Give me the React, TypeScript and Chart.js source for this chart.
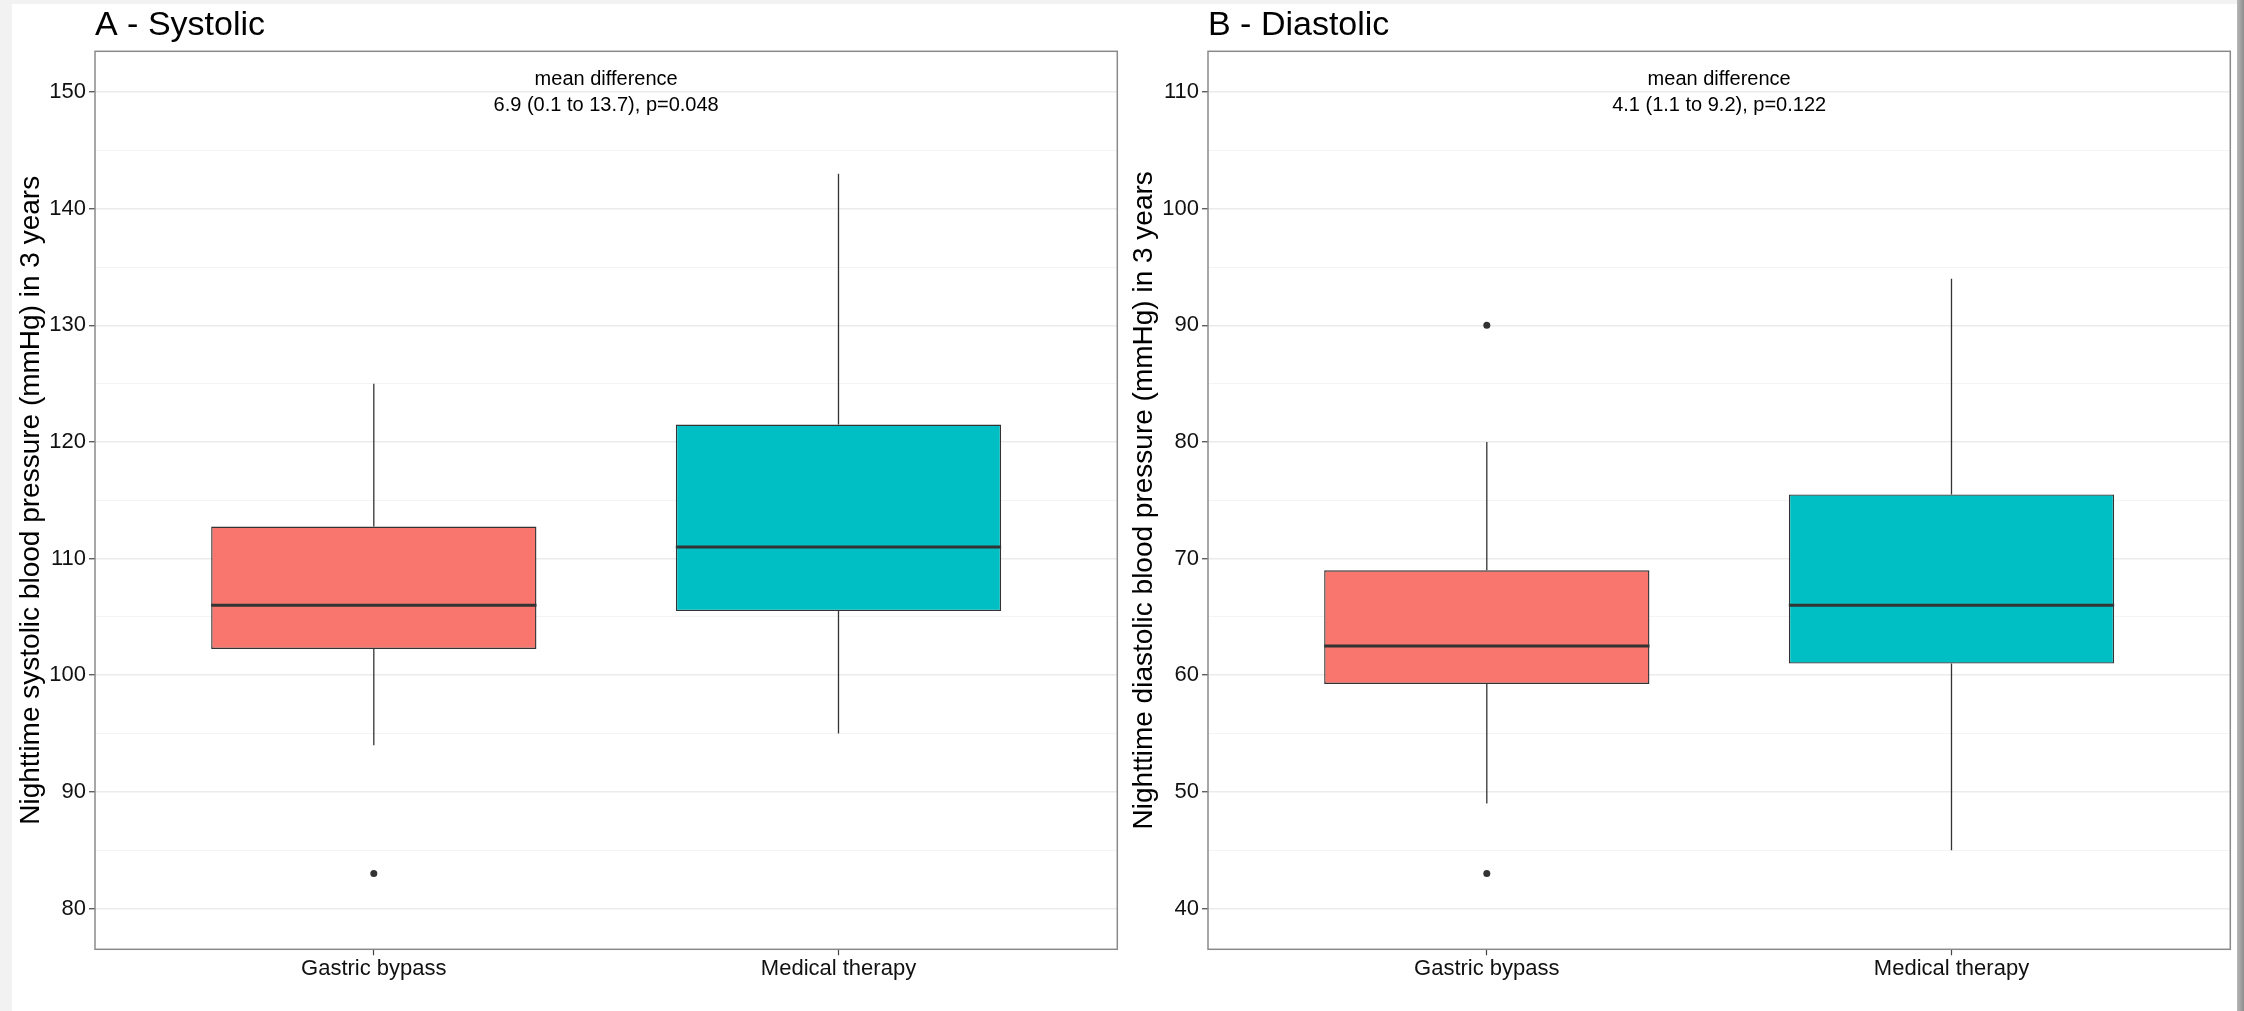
import React, { useEffect, useRef } from 'react';
import { Chart, registerables } from 'chart.js';

Chart.register(...registerables);

// ---------- data ----------
const CATEGORIES = ['Gastric bypass', 'Medical therapy'];
const FILL_COLORS = ['#F8766D', '#00BFC4'];

// Panel A – systolic
const SYS_TITLE = 'A - Systolic';
const SYS_Y_LABEL = 'Nighttime systolic blood pressure (mmHg) in 3 years';
const SYS_LOWER = [94, 95];
const SYS_Q1 = [102.25, 105.5];
const SYS_MEDIAN = [106, 111];
const SYS_Q3 = [112.75, 121.5];
const SYS_UPPER = [125, 143];
const SYS_OUTLIERS = [[83], []];
const SYS_MAJOR_TICKS = [80, 90, 100, 110, 120, 130, 140, 150];
const SYS_MINOR_TICKS = [85, 95, 105, 115, 125, 135, 145];
const SYS_LIMITS = [76.5, 153.5];
const SYS_ANNOTATION = ['mean difference', '6.9 (0.1 to 13.7), p=0.048'];

// Panel B – diastolic
const DIA_TITLE = 'B - Diastolic';
const DIA_Y_LABEL = 'Nighttime diastolic blood pressure (mmHg) in 3 years';
const DIA_LOWER = [49, 45];
const DIA_Q1 = [59.25, 61];
const DIA_MEDIAN = [62.5, 66];
const DIA_Q3 = [69, 75.5];
const DIA_UPPER = [80, 94];
const DIA_OUTLIERS = [[43, 90], []];
const DIA_MAJOR_TICKS = [40, 50, 60, 70, 80, 90, 100, 110];
const DIA_MINOR_TICKS = [45, 55, 65, 75, 85, 95, 105];
const DIA_LIMITS = [36.5, 113.5];
const DIA_ANNOTATION = ['mean difference', '4.1 (1.1 to 9.2), p=0.122'];

// ---------- styling ----------
const FONT = 'Liberation Sans, Arial, Helvetica, sans-serif';
const BOX_WIDTH = 0.7; // fraction of category spacing
const X_LIMITS = [0.4, 2.6];
const CANVAS_W = 1131;
const CANVAS_H = 1011;
const LINE_COLOR = '#333333';

type PanelProps = {
  title: string;
  yLabel: string;
  lower: number[];
  q1: number[];
  median: number[];
  q3: number[];
  upper: number[];
  outliers: number[][];
  majorTicks: number[];
  minorTicks: number[];
  limits: number[];
  annotation: string[];
};

const framePlugin = {
  id: 'panelFrame',
  afterDraw(chart: any) {
    const { ctx, chartArea } = chart;
    ctx.save();
    ctx.strokeStyle = '#8a8a8a';
    ctx.lineWidth = 1.5;
    ctx.strokeRect(chartArea.left, chartArea.top, chartArea.right - chartArea.left, chartArea.bottom - chartArea.top);
    ctx.restore();
  },
};

const annotationPlugin = {
  id: 'meanDiff',
  afterDatasetsDraw(chart: any, _args: any, opts: any) {
    const { ctx, chartArea, scales } = chart;
    const lines: string[] = opts.lines || [];
    const x = scales.x.getPixelForValue((1 + CATEGORIES.length) / 2);
    ctx.save();
    ctx.font = `20px ${FONT}`;
    ctx.fillStyle = '#000';
    ctx.textAlign = 'center';
    ctx.textBaseline = 'middle';
    lines.forEach((t, i) => ctx.fillText(t, x, chartArea.top + 28.5 + i * 26));
    ctx.restore();
  },
};

function Panel(p: PanelProps & { left: number }) {
  const ref = useRef<HTMLCanvasElement | null>(null);
  useEffect(() => {
    if (!ref.current) return;
    const positions = CATEGORIES.map((_, i) => i + 1);
    const half = BOX_WIDTH / 2;
    const datasets: any[] = [];
    // medians
    positions.forEach((x, i) => {
      datasets.push({
        type: 'line',
        data: [
          { x: x - half, y: p.median[i] },
          { x: x + half, y: p.median[i] },
        ],
        borderColor: LINE_COLOR,
        borderWidth: 3,
        pointRadius: 0,
        fill: false,
      });
    });
    // boxes
    datasets.push({
      type: 'bar',
      data: positions.map((x, i) => ({ x, y: [p.q1[i], p.q3[i]] })),
      backgroundColor: FILL_COLORS,
      borderColor: LINE_COLOR,
      borderWidth: 1.4,
      borderSkipped: false,
      barPercentage: BOX_WIDTH,
      categoryPercentage: 1,
    });
    // whiskers
    positions.forEach((x, i) => {
      datasets.push({
        type: 'line',
        data: [
          { x, y: p.q3[i] },
          { x, y: p.upper[i] },
        ],
        borderColor: LINE_COLOR,
        borderWidth: 1.3,
        pointRadius: 0,
        fill: false,
      });
      datasets.push({
        type: 'line',
        data: [
          { x, y: p.lower[i] },
          { x, y: p.q1[i] },
        ],
        borderColor: LINE_COLOR,
        borderWidth: 1.3,
        pointRadius: 0,
        fill: false,
      });
    });
    // outliers
    datasets.push({
      type: 'scatter',
      data: positions.flatMap((x, i) => p.outliers[i].map((v) => ({ x, y: v }))),
      pointRadius: 3.5,
      pointBackgroundColor: LINE_COLOR,
      pointBorderWidth: 0,
      showLine: false,
    });

    const allTicks = [...p.majorTicks, ...p.minorTicks].sort((a, b) => a - b);
    const isMajor = (v: number) => p.majorTicks.includes(v);

    const chart = new Chart(ref.current, {
      type: 'bar',
      data: { datasets },
      plugins: [framePlugin, annotationPlugin],
      options: {
        animation: false,
        responsive: false,
        devicePixelRatio: 1,
        events: [],
        layout: { padding: { left: 0, right: 13.7, top: 0, bottom: 0 } },
        plugins: {
          legend: { display: false },
          tooltip: { enabled: false },
          title: {
            display: true,
            text: p.title,
            align: 'start',
            fullSize: false,
            color: '#000',
            font: { family: FONT, size: 34, weight: 'normal' },
            padding: { top: 5, bottom: 5.5 },
          },
          meanDiff: { lines: p.annotation },
        } as any,
        scales: {
          x: {
            type: 'linear',
            min: X_LIMITS[0],
            max: X_LIMITS[1],
            offset: false,
            afterBuildTicks: (s: any) => {
              s.ticks = positions.map((v) => ({ value: v }));
            },
            afterFit: (s: any) => {
              s.height = CANVAS_H - 949.3;
            },
            ticks: {
              autoSkip: false,
              maxRotation: 0,
              minRotation: 0,
              color: '#111',
              font: { family: FONT, size: 22 },
              padding: 0,
              callback: (v: any) => CATEGORIES[Math.round(Number(v)) - 1] ?? '',
            },
            grid: {
              display: true,
              offset: false,
              drawOnChartArea: false,
              drawTicks: true,
              tickLength: 6,
              tickWidth: 1.2,
              tickColor: '#444',
            },
            border: { display: false },
          } as any,
          y: {
            type: 'linear',
            min: p.limits[0],
            max: p.limits[1],
            afterBuildTicks: (s: any) => {
              s.ticks = allTicks.map((v) => ({ value: v }));
            },
            afterFit: (s: any) => {
              s.width = 95;
            },
            ticks: {
              autoSkip: false,
              color: '#111',
              font: { family: FONT, size: 22 },
              padding: 3,
              callback: (v: any) => (isMajor(Number(v)) ? String(v) : ''),
            },
            grid: {
              display: true,
              drawOnChartArea: true,
              drawTicks: true,
              tickLength: 6,
              tickWidth: 1.2,
              color: (c: any) => (c.tick && isMajor(c.tick.value) ? '#ebebeb' : '#f4f4f4'),
              lineWidth: (c: any) => (c.tick && isMajor(c.tick.value) ? 1.5 : 1),
              tickColor: (c: any) => (c.tick && isMajor(c.tick.value) ? '#444' : 'rgba(0,0,0,0)'),
            },
            border: { display: false },
            title: {
              display: true,
              text: p.yLabel,
              color: '#000',
              font: { family: FONT, size: 28 },
              padding: { top: 14, bottom: 0 },
            },
          } as any,
        },
      } as any,
    });
    return () => chart.destroy();
  }, []);
  return (
    <canvas
      ref={ref}
      width={CANVAS_W}
      height={CANVAS_H}
      style={{ position: 'absolute', left: p.left, top: 0, width: CANVAS_W, height: CANVAS_H }}
    />
  );
}

export default function App() {
  return (
    <div
      style={{
        position: 'absolute',
        left: 0,
        top: 0,
        width: 2244,
        height: 1011,
        background: '#f2f2f2',
        overflow: 'hidden',
      }}
    >
      <div style={{ position: 'absolute', left: 12, top: 4, width: 2225, height: 1007, background: '#fff' }} />
      <div
        style={{
          position: 'absolute',
          left: 2237,
          top: 0,
          width: 7,
          height: 1011,
          background: 'linear-gradient(to right, #b8b8b8, #8e8e8e)',
        }}
      />
      <Panel
        left={0}
        title={SYS_TITLE}
        yLabel={SYS_Y_LABEL}
        lower={SYS_LOWER}
        q1={SYS_Q1}
        median={SYS_MEDIAN}
        q3={SYS_Q3}
        upper={SYS_UPPER}
        outliers={SYS_OUTLIERS}
        majorTicks={SYS_MAJOR_TICKS}
        minorTicks={SYS_MINOR_TICKS}
        limits={SYS_LIMITS}
        annotation={SYS_ANNOTATION}
      />
      <Panel
        left={1113}
        title={DIA_TITLE}
        yLabel={DIA_Y_LABEL}
        lower={DIA_LOWER}
        q1={DIA_Q1}
        median={DIA_MEDIAN}
        q3={DIA_Q3}
        upper={DIA_UPPER}
        outliers={DIA_OUTLIERS}
        majorTicks={DIA_MAJOR_TICKS}
        minorTicks={DIA_MINOR_TICKS}
        limits={DIA_LIMITS}
        annotation={DIA_ANNOTATION}
      />
    </div>
  );
}
